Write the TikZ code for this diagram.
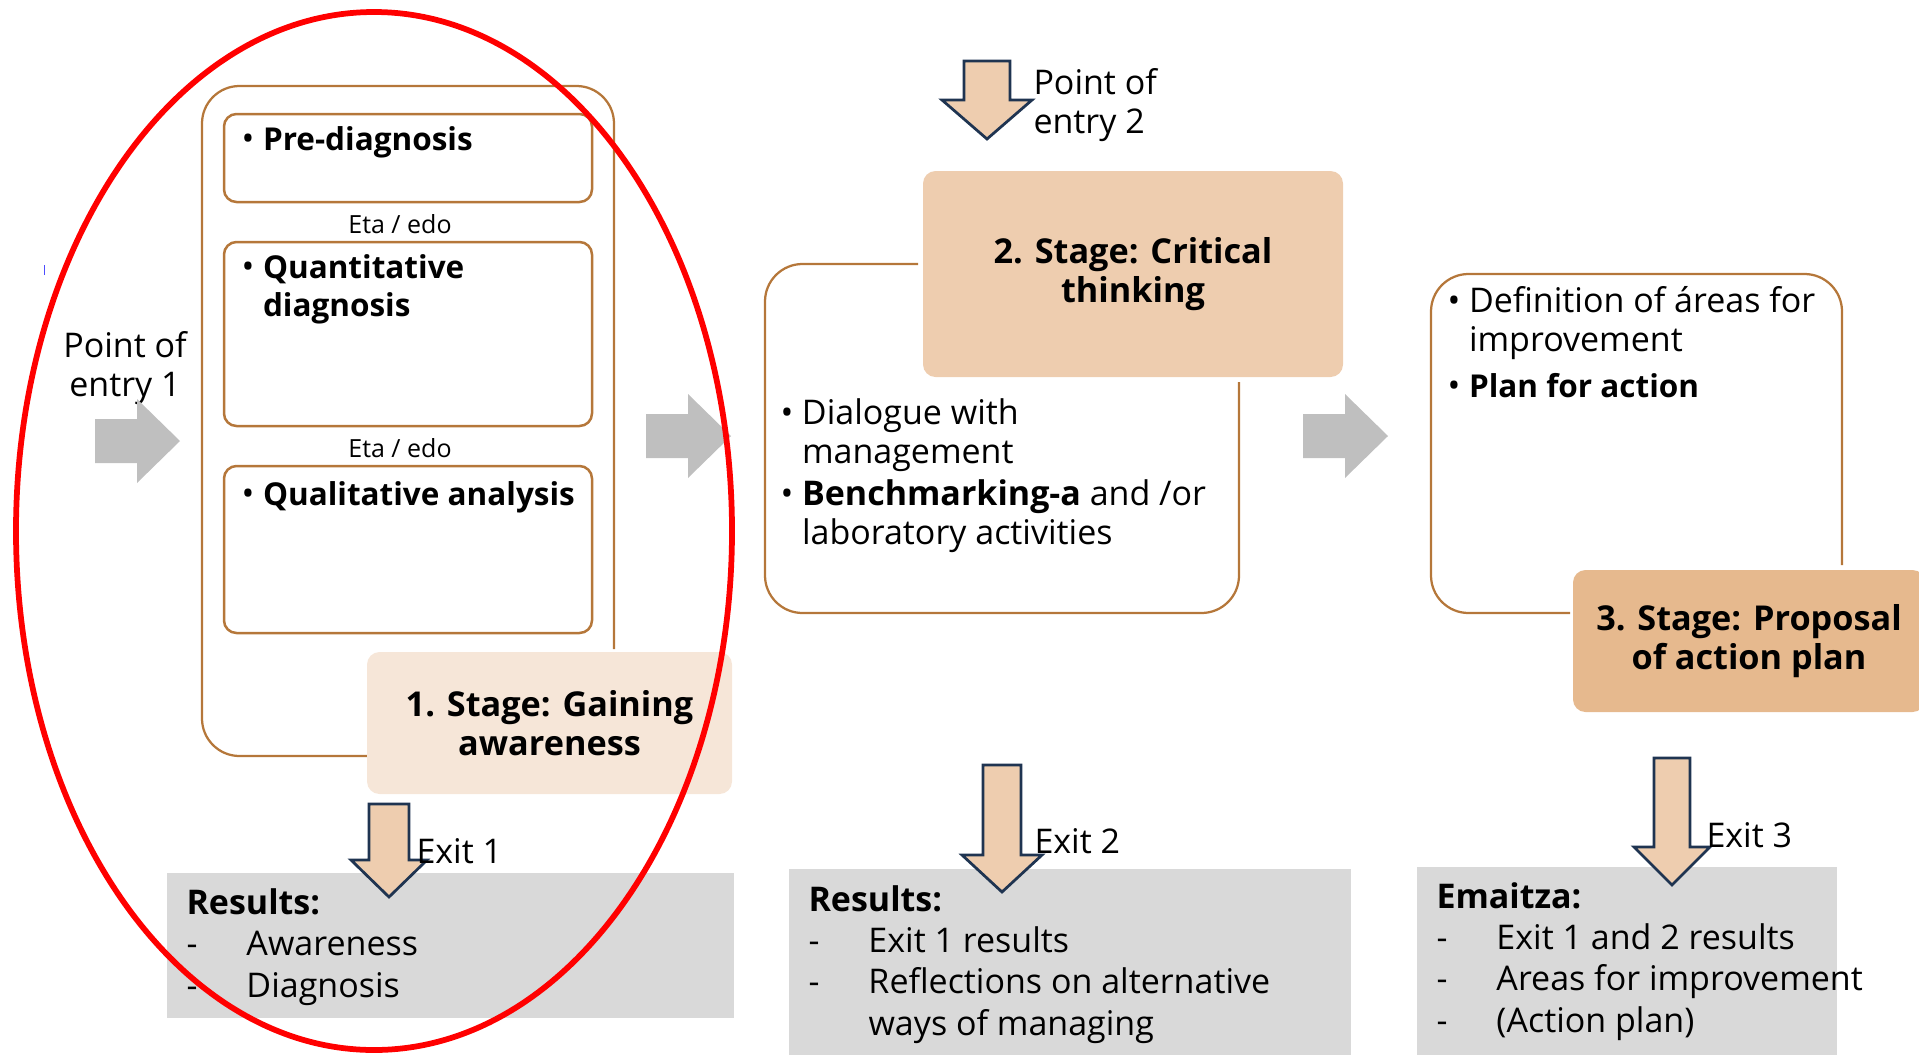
\documentclass[tikz,border=0pt]{standalone}
\usepackage{fontspec}
\setmainfont{Open Sans}
\usetikzlibrary{positioning}

\definecolor{framebrown}{HTML}{B5773A}
\definecolor{stageonefill}{HTML}{F6E6D8}
\definecolor{stagetwofill}{HTML}{EECDAF}
\definecolor{stagethreefill}{HTML}{E6B98E}
\definecolor{arrowgray}{HTML}{BFBFBF}
\definecolor{arrowpeach}{HTML}{EECDAF}
\definecolor{navyline}{HTML}{1F3451}
\definecolor{resultgray}{HTML}{D9D9D9}

\newcommand{\bodyfont}{\fontsize{13.6pt}{15.6pt}\selectfont}
\newcommand{\boldfont}{\fontsize{12.6pt}{15pt}\selectfont\bfseries}
\newcommand{\resfont}{\fontsize{13.6pt}{16.5pt}\selectfont}
\newcommand{\stagefont}{\fontsize{13.7pt}{15.6pt}\selectfont\bfseries}
\newcommand{\smallfont}{\fontsize{10pt}{12pt}\selectfont}
\newcommand{\bul}{\makebox[8.6pt][l]{\mdseries\fontsize{13.6pt}{15.6pt}\selectfont\textbullet}}
\newcommand{\dash}{\makebox[24pt][l]{-}}

% gray step arrow: tail x, centre y
\newcommand{\steparrow}[2]{%
  \fill[stepfill] (#1,#2-22) -- (#1+42,#2-22) -- (#1+42,#2-42) -- (#1+85,#2)
    -- (#1+42,#2+42) -- (#1+42,#2+22) -- (#1,#2+22) -- cycle;}
% outlined down arrow: centre x, shaft half, head half, top, shaft bottom, tip
\newcommand{\downblock}[6]{%
  \draw[blockarrow] (#1-#2,#4) -- (#1+#2,#4) -- (#1+#2,#5) -- (#1+#3,#5)
    -- (#1,#6) -- (#1-#3,#5) -- (#1-#2,#5) -- cycle;}

\begin{document}
\begin{tikzpicture}[
  x=0.4pt, y=-0.4pt,
  stageframe/.style={draw=framebrown,line width=0.9pt,rounded corners=15pt},
  itembox/.style={draw=framebrown,line width=1pt,rounded corners=5pt},
  stage/.style={rounded corners=5pt,align=center,inner sep=0pt,font=\stagefont},
  itemtext/.style={anchor=base west,align=left,inner sep=0pt,font=\bodyfont},
  restext/.style={anchor=base west,align=left,inner sep=0pt,font=\resfont},
  resultbox/.style={fill=resultgray,anchor=north west,inner sep=0pt},
  tag/.style={anchor=base west,align=left,inner sep=0pt,font=\bodyfont},
  stepfill/.style={fill=arrowgray},
  blockarrow/.style={fill=arrowpeach,draw=navyline,line width=1.1pt}
]
  \useasboundingbox (0,0) rectangle (1919,1054);

  % stage 1
  \draw[stageframe] (367,756) -- (202,756) -- (202,86) -- (614,86) -- (614,649);
  \draw[itembox] (224,114) rectangle (592,202);
  \draw[itembox] (224,242) rectangle (592,426);
  \draw[itembox] (224,466) rectangle (592,633);
  \node[itemtext,font=\boldfont] (prediag) at (241,150) {\bul Pre-diagnosis};
  \node[itemtext,font=\boldfont] (quantdiag) at (241,316) {\bul Quantitative\\\hspace*{8.6pt}diagnosis};
  \node[itemtext,font=\boldfont] (qualan) at (241,505) {\bul Qualitative analysis};
  \node[anchor=base,inner sep=0pt,font=\smallfont] (or1) at (400,233) {Eta / edo};
  \node[anchor=base,inner sep=0pt,font=\smallfont] (or2) at (400,457) {Eta / edo};
  \node[stage,fill=stageonefill,minimum width=146pt,minimum height=56.8pt] (stage1) at (549.5,723) {1. Stage: Gaining\\awareness};

  % entry 1
  \node[anchor=base,align=center,inner sep=0pt,font=\bodyfont] (entry1) at (125,396) {Point of\\entry 1};
  \steparrow{95}{441}
  \draw[blue!70,line width=0.4pt] (44,265) -- (44,275);

  % stage 2
  \steparrow{646}{436}
  \draw[stageframe] (918,264) -- (765,264) -- (765,613) -- (1239,613) -- (1239,382);
  \node[stage,fill=stagetwofill,minimum width=168pt,minimum height=82.4pt] (stage2) at (1133,274) {2. Stage: Critical\\thinking};
  \node[itemtext] (dialog) at (780,544) {\bul Dialogue with\\\hspace*{8.6pt}management\\[1.2pt]\bul\textbf{Benchmarking-a} and /or\\\hspace*{8.6pt}laboratory activities};
  \downblock{987}{23}{45}{61}{100}{139}
  \node[tag] (entry2) at (1033,133) {Point of\\entry 2};

  % stage 3
  \steparrow{1303}{436}
  \draw[stageframe] (1570,613) -- (1431,613) -- (1431,274) -- (1842,274) -- (1842,565);
  \node[itemtext] (areas) at (1447,397) {\bul Definition of áreas for\\\hspace*{8.6pt}improvement\\[2.6pt]\bul{\boldfont Plan for action}};
  \node[stage,fill=stagethreefill,minimum width=140.8pt,minimum height=56.8pt] (stage3) at (1749,641) {3. Stage: Proposal\\of action plan};

  % results
  \node[resultbox,minimum width=226.8pt,minimum height=58pt] (res1) at (166,872) {};
  \node[restext] (res1txt) at (186,997) {\textbf{Results:}\\\dash Awareness\\\dash Diagnosis};
  \node[resultbox,minimum width=224.8pt,minimum height=80pt] (res2) at (788,868) {};
  \node[restext] (res2txt) at (808,1035) {\textbf{Results:}\\\dash Exit 1 results\\\dash Reflections on alternative\\\hspace*{24pt}ways of managing};
  \node[resultbox,minimum width=168pt,minimum height=80pt] (res3) at (1416,866) {};
  \node[restext] (res3txt) at (1436,1032) {\textbf{Emaitza:}\\\dash Exit 1 and 2 results\\\dash Areas for improvement\\\dash (Action plan)};

  % exits
  \downblock{389}{20}{38}{804}{860}{897}
  \node[tag] (exit1) at (416,863) {Exit 1};
  \downblock{1002}{19}{40}{765}{855}{892}
  \node[tag] (exit2) at (1034,853) {Exit 2};
  \downblock{1672}{18}{38}{758}{847}{885}
  \node[tag] (exit3) at (1706,847) {Exit 3};

  % highlight
  \draw[red,line width=2.3pt] (374,531) ellipse [x radius=358,y radius=519];
\end{tikzpicture}
\end{document}
